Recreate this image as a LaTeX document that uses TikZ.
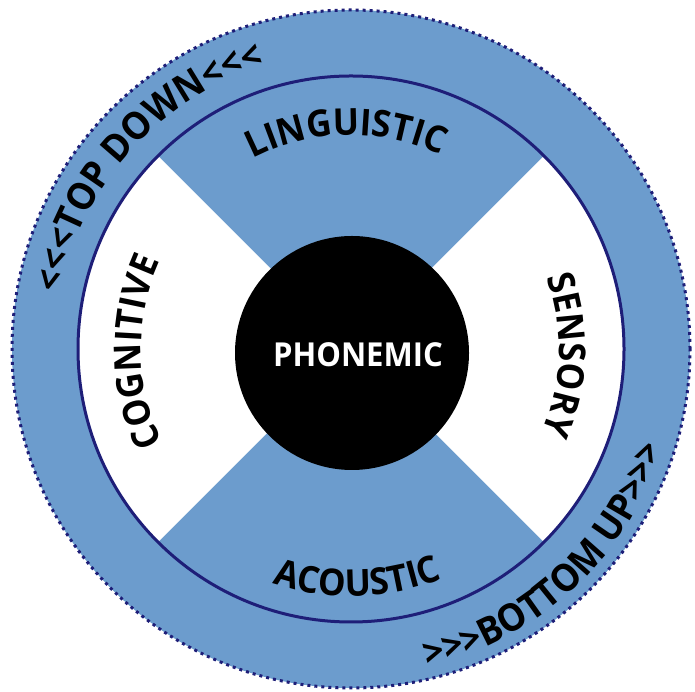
\documentclass[tikz,border=0pt]{standalone}
\usepackage{fontspec}
\newfontfamily\lbl[FakeStretch=0.94]{Open Sans}
\usetikzlibrary{decorations.text}
\definecolor{ringblue}{RGB}{108,156,205}
\definecolor{navy}{RGB}{30,30,120}
\newcommand\lblfont{\lbl\bfseries\fontsize{33}{40}\selectfont}
\newcommand\arcfont{\lbl\bfseries\fontsize{37}{44}\selectfont}
\newcommand\ringfont{\lbl\bfseries\fontsize{38}{44}\selectfont}
\begin{document}
\begin{tikzpicture}[x=1pt,y=1pt,
  arctext/.style={decorate, decoration={text along path, text align=center, text={|\arcfont|#1}}},
  ringtext/.style={decorate, decoration={text along path, text align=center, text={|\ringfont|#1}}},
  ringline/.style={navy, line width=3pt},
  dotline/.style={navy, line width=3pt, dash pattern=on 3pt off 4pt}]
\useasboundingbox (0,0) rectangle (695,692);
\coordinate (C) at (351,343);
% outer ring
\fill[ringblue] (C) circle[radius=339];
\draw[dotline] (C) circle[radius=339];
% white side wedges
\begin{scope}
  \clip (C) circle[radius=273];
  \fill[white] (C) -- ++(135:400) -- ++(0,-566) -- cycle;
  \fill[white] (C) -- ++(45:400) -- ++(0,-566) -- cycle;
\end{scope}
\draw[ringline] (C) circle[radius=273];
% core
\node[circle, fill=black, minimum size=234pt, inner sep=0pt] (core) at (352,339) {};
\node[text=white, font=\lblfont, inner sep=0pt] (phon) at (358,337) {PHONEMIC};
% curved labels
\path[arctext=LINGUISTIC] (C) ++(181.3:214) arc[start angle=181.3, end angle=1.3, radius=214];
\path[arctext=ACOUSTIC] (C) ++(-178.4:247) arc[start angle=-178.4, end angle=1.6, radius=247];
\path[arctext=COGNITIVE] (C) ++(270.8:210) arc[start angle=270.8, end angle=90.8, radius=210];
\path[arctext=SENSORY] (C) ++(88.4:208) arc[start angle=88.4, end angle=-91.6, radius=208];
\path[ringtext={<<<TOP DOWN<<<}] (C) ++(228:296) arc[start angle=228, end angle=48, radius=296];
\path[ringtext={>>>BOTTOM UP>>>}] (C) ++(-137:327) arc[start angle=-137, end angle=43, radius=327];
\end{tikzpicture}
\end{document}
